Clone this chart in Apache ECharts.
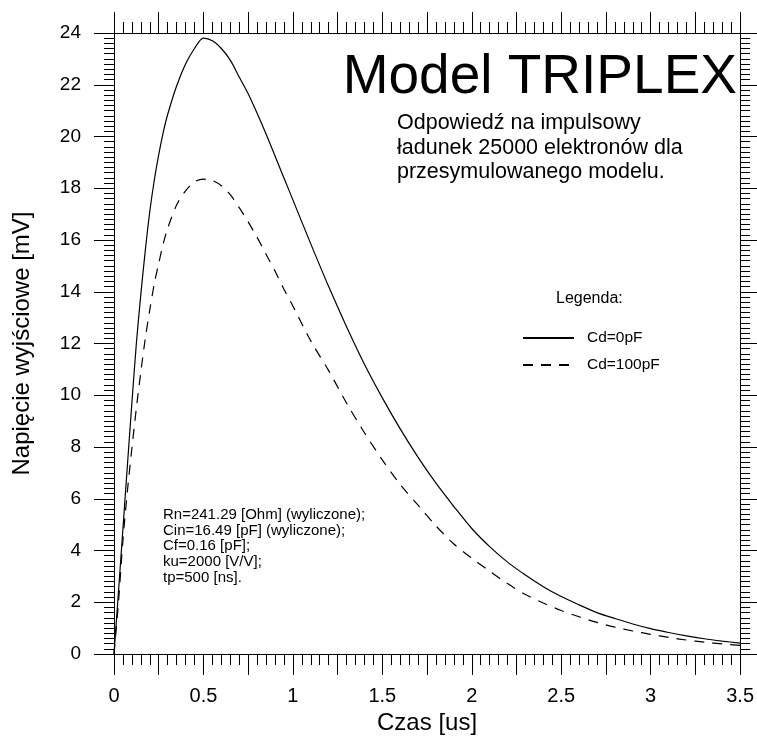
<!DOCTYPE html>
<html>
<head>
    <meta charset="utf-8">
    <title>Model TRIPLEX</title>
    <script src="https://cdn.jsdelivr.net/npm/echarts@6/dist/echarts.min.js"></script>
    <style>
        html, body { margin: 0; padding: 0; background: #fff; }
        #main { width: 757px; height: 740px; }
    </style>
</head>
<body>
<div id="main"></div>
<script type="text/javascript">
    // czas [us]
    var czas = [0, 0.025, 0.05, 0.075, 0.1, 0.125, 0.15, 0.175, 0.2, 0.225, 0.25, 0.275, 0.3, 0.35, 0.4, 0.45, 0.5,
        0.55, 0.6, 0.65, 0.7, 0.75, 0.8, 0.85, 0.9, 0.95, 1.0, 1.1, 1.2, 1.3, 1.4, 1.5, 1.6, 1.7,
        1.8, 1.9, 2.0, 2.1, 2.2, 2.3, 2.4, 2.5, 2.6, 2.7, 2.8, 2.9, 3.0, 3.1, 3.2, 3.3, 3.4, 3.5];
    // Cd=0pF [mV]
    var cd0 = [0, 2.4, 4.85, 7.3, 9.7, 12.0, 13.9, 15.6, 17.1, 18.3, 19.3, 20.15, 20.85, 21.95, 22.8, 23.4, 23.8,
        23.7, 23.4, 22.95, 22.3, 21.65, 20.9, 20.1, 19.25, 18.4, 17.55, 15.85, 14.2, 12.65, 11.2, 9.9, 8.7, 7.6,
        6.6, 5.7, 4.85, 4.15, 3.55, 3.05, 2.6, 2.22, 1.9, 1.6, 1.37, 1.16, 0.98, 0.83, 0.7, 0.59, 0.5, 0.42];
    // Cd=100pF [mV]
    var cd100 = [0, 2.0, 4.4, 6.3, 7.95, 9.5, 10.9, 12.2, 13.3, 14.3, 15.1, 15.85, 16.45, 17.35, 17.9, 18.25, 18.35,
        18.3, 18.1, 17.75, 17.25, 16.7, 16.1, 15.45, 14.8, 14.1, 13.45, 12.1, 10.95, 9.7, 8.55, 7.5, 6.55, 5.75,
        4.95, 4.25, 3.7, 3.2, 2.72, 2.3, 1.97, 1.68, 1.44, 1.22, 1.04, 0.89, 0.76, 0.64, 0.54, 0.46, 0.39, 0.33];

    var tytul = 'Model TRIPLEX';
    var opis = ['Odpowiedź na impulsowy', 'ładunek 25000 elektronów dla', 'przesymulowanego modelu.'];
    var parametry = ['Rn=241.29 [Ohm] (wyliczone);', 'Cin=16.49 [pF] (wyliczone);', 'Cf=0.16 [pF];',
        'ku=2000 [V/V];', 'tp=500 [ns].'];

    function pary(xs, ys) {
        var out = [];
        for (var i = 0; i < xs.length; i++) out.push([xs[i], ys[i]]);
        return out;
    }

    var font = '"Liberation Sans", Arial, sans-serif';
    var osLinia = { show: true, onZero: false, lineStyle: { color: '#000', width: 1 } };

    var myChart = echarts.init(document.getElementById('main'));
    var option = {
        animation: false,
        textStyle: { fontFamily: font, color: '#000' },
        grid: { left: 114, top: 33, width: 628, height: 628, containLabel: false },
        legend: {
            left: 517, top: 325, orient: 'vertical',
            itemWidth: 51, itemHeight: 14, itemGap: 11,
            itemStyle: { opacity: 0 },
            textStyle: { fontSize: 15.5, lineHeight: 14, color: '#000', fontFamily: font, padding: [0, 0, 0, 8] },
            data: ['Cd=0pF', 'Cd=100pF']
        },
        xAxis: [
            {
                type: 'value', position: 'bottom', min: 0, max: 3.5, interval: 0.25,
                axisLine: osLinia,
                axisTick: { show: true, inside: false, length: 21, lineStyle: { color: '#000' } },
                minorTick: { show: true, splitNumber: 5, length: 11, lineStyle: { color: '#000' } },
                splitLine: { show: false },
                axisLabel: {
                    fontSize: 20, color: '#000', margin: 32, fontFamily: font,
                    formatter: function (v) {
                        return Math.abs(v * 2 - Math.round(v * 2)) < 1e-6 ? String(v) : '';
                    }
                },
                name: 'Czas [us]', nameLocation: 'middle', nameGap: 57,
                nameTextStyle: { fontSize: 24, color: '#000', fontFamily: font }
            },
            {
                type: 'value', position: 'top', min: 0, max: 3.5, interval: 0.25,
                axisLine: osLinia,
                axisTick: { show: true, inside: false, length: 21, lineStyle: { color: '#000' } },
                minorTick: { show: true, splitNumber: 5, length: 11, lineStyle: { color: '#000' } },
                splitLine: { show: false },
                axisLabel: { show: false }
            }
        ],
        yAxis: [
            {
                type: 'value', position: 'left', min: 0, max: 24, interval: 2,
                axisLine: osLinia,
                axisTick: { show: true, inside: false, length: 20, lineStyle: { color: '#000' } },
                minorTick: { show: true, splitNumber: 10, length: 10, lineStyle: { color: '#000' } },
                splitLine: { show: false },
                axisLabel: { fontSize: 19, color: '#000', margin: 33, fontFamily: font },
                name: 'Napięcie wyjściowe [mV]', nameLocation: 'middle', nameGap: 80,
                nameTextStyle: { fontSize: 24, color: '#000', fontFamily: font }
            },
            {
                type: 'value', position: 'right', min: 0, max: 24, interval: 2,
                axisLine: osLinia,
                axisTick: { show: true, inside: false, length: 20, lineStyle: { color: '#000' } },
                minorTick: { show: true, splitNumber: 10, length: 10, lineStyle: { color: '#000' } },
                splitLine: { show: false },
                axisLabel: { show: false }
            }
        ],
        graphic: [
            {
                type: 'text', right: 20, top: 50,
                style: { text: tytul, font: '55px ' + font, fill: '#000' }
            },
            {
                type: 'text', left: 397, top: 111,
                style: { text: opis.join('\n'), font: '21.5px ' + font, lineHeight: 24.5, fill: '#000' }
            },
            {
                type: 'text', left: 556, top: 291,
                style: { text: 'Legenda:', font: '16px ' + font, fill: '#000' }
            },
            {
                type: 'text', left: 163, top: 507,
                style: { text: parametry.join('\n'), font: '15px ' + font, lineHeight: 15.7, fill: '#000' }
            }
        ],
        series: [
            {
                name: 'Cd=0pF', type: 'line', xAxisIndex: 0, yAxisIndex: 0,
                data: pary(czas, cd0), smooth: 0.3, showSymbol: false, symbol: 'none',
                lineStyle: { color: '#000', width: 1.2, type: 'solid' },
                itemStyle: { color: '#000' }
            },
            {
                name: 'Cd=100pF', type: 'line', xAxisIndex: 0, yAxisIndex: 0,
                data: pary(czas, cd100), smooth: 0.3, showSymbol: false, symbol: 'none',
                lineStyle: { color: '#000', width: 1.2, type: [10, 8] },
                itemStyle: { color: '#000' }
            }
        ]
    };
    myChart.setOption(option);
</script>
</body>
</html>
